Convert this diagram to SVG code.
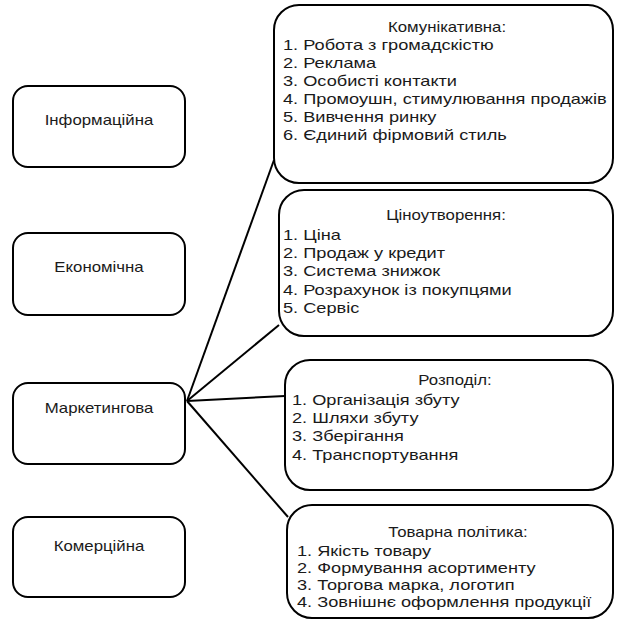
<svg xmlns="http://www.w3.org/2000/svg" width="628" height="622" viewBox="0 0 628 622">
<style>
.box{fill:#fff;stroke:#000;stroke-width:2}
.t{font-family:"Liberation Sans",Arial,sans-serif;font-size:14px;fill:#1a1a1a}
.c{text-anchor:middle}
.conn{stroke:#000;stroke-width:2;fill:none}
</style>
<rect width="628" height="622" fill="#fff"/>
<g id="connectors">
<line class="conn" x1="187" y1="401" x2="274" y2="160"/>
<line class="conn" x1="187" y1="401" x2="279" y2="325"/>
<line class="conn" x1="187" y1="401" x2="285" y2="396"/>
<line class="conn" x1="187" y1="401" x2="288" y2="517"/>
</g>
<g id="informatsiina">
<rect class="box" x="13" y="86" width="172" height="81" rx="15"/>
<text class="t c" transform="translate(99,125) scale(1.2,1)">Інформаційна</text>
</g>
<g id="ekonomichna">
<rect class="box" x="13" y="233" width="172" height="82" rx="15"/>
<text class="t c" transform="translate(99,272) scale(1.2,1)">Економічна</text>
</g>
<g id="marketynhova">
<rect class="box" x="13" y="383" width="172" height="81" rx="15"/>
<text class="t c" transform="translate(99,413) scale(1.2,1)">Маркетингова</text>
</g>
<g id="komertsiina">
<rect class="box" x="13" y="517" width="172" height="80" rx="15"/>
<text class="t c" transform="translate(99,551) scale(1.2,1)">Комерційна</text>
</g>
<g id="komunikatyvna">
<rect class="box" x="274" y="5" width="339" height="178" rx="25"/>
<text class="t c" transform="translate(447,32) scale(1.2,1)">Комунікативна:</text>
<text class="t" transform="translate(283,50) scale(1.3,1)">1. Робота з громадскістю</text>
<text class="t" transform="translate(283,68) scale(1.3,1)">2. Реклама</text>
<text class="t" transform="translate(283,86) scale(1.3,1)">3. Особисті контакти</text>
<text class="t" transform="translate(283,104) scale(1.3,1)">4. Промоушн, стимулювання продажів</text>
<text class="t" transform="translate(283,122) scale(1.3,1)">5. Вивчення ринку</text>
<text class="t" transform="translate(283,140) scale(1.3,1)">6. Єдиний фірмовий стиль</text>
</g>
<g id="tsinoutvorennia">
<rect class="box" x="279" y="190" width="334" height="146" rx="25"/>
<text class="t c" transform="translate(446,220) scale(1.2,1)">Ціноутворення:</text>
<text class="t" transform="translate(283,240) scale(1.3,1)">1. Ціна</text>
<text class="t" transform="translate(283,258) scale(1.3,1)">2. Продаж у кредит</text>
<text class="t" transform="translate(283,276) scale(1.3,1)">3. Система знижок</text>
<text class="t" transform="translate(283,295) scale(1.3,1)">4. Розрахунок із покупцями</text>
<text class="t" transform="translate(283,313) scale(1.3,1)">5. Сервіс</text>
</g>
<g id="rozpodil">
<rect class="box" x="285" y="360" width="328" height="130" rx="25"/>
<text class="t c" transform="translate(455,385) scale(1.2,1)">Розподіл:</text>
<text class="t" transform="translate(292,405) scale(1.3,1)">1. Організація збуту</text>
<text class="t" transform="translate(292,423) scale(1.3,1)">2. Шляхи збуту</text>
<text class="t" transform="translate(292,441) scale(1.3,1)">3. Зберігання</text>
<text class="t" transform="translate(292,460) scale(1.3,1)">4. Транспортування</text>
</g>
<g id="tovarna-polityka">
<rect class="box" x="287" y="505" width="326" height="113" rx="25"/>
<text class="t c" transform="translate(458,537) scale(1.2,1)">Товарна політика:</text>
<text class="t" transform="translate(297,556) scale(1.3,1)">1. Якість товару</text>
<text class="t" transform="translate(297,573) scale(1.3,1)">2. Формування асортименту</text>
<text class="t" transform="translate(297,590) scale(1.3,1)">3. Торгова марка, логотип</text>
<text class="t" transform="translate(297,607) scale(1.3,1)">4. Зовнішнє оформлення продукції</text>
</g>
</svg>
